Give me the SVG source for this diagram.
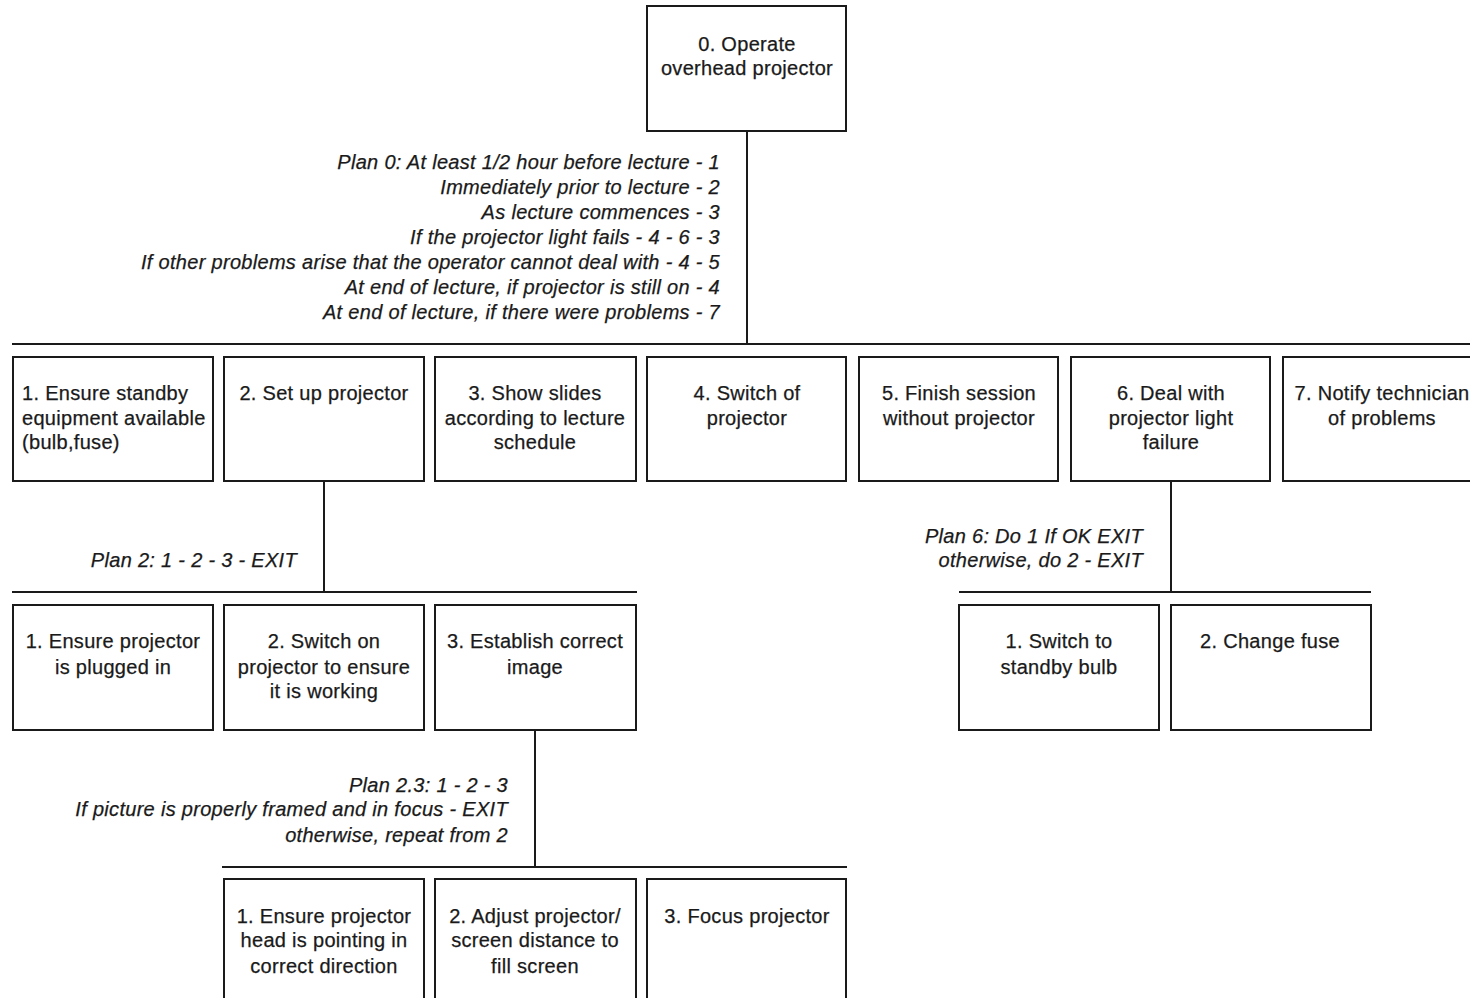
<svg xmlns="http://www.w3.org/2000/svg" width="1470" height="998" viewBox="0 0 1470 998">
  <style>
    .box { fill: #ffffff; stroke: #1a1a1a; stroke-width: 2; }
    .link { fill: none; stroke: #1a1a1a; stroke-width: 2; }
    text { font-family: "Liberation Sans", Arial, sans-serif; font-size: 20px; letter-spacing: 0.3px; fill: #1a1a1a; stroke: #1a1a1a; stroke-width: 0.25; }
    .c { text-anchor: middle; }
    .l { text-anchor: start; }
    .plan { font-style: italic; text-anchor: end; }
  </style>
  <rect width="1470" height="998" fill="#ffffff"/>

  <!-- connectors: vertical drops and horizontal bus lines -->
  <g id="connectors">
    <path class="link" d="M747 131 V344 M12 344 H1470"/>
    <path class="link" d="M324 481 V592 M12 592 H637"/>
    <path class="link" d="M1171 481 V592 M959 592 H1371"/>
    <path class="link" d="M535 730 V867 M222 867 H847"/>
  </g>

  <!-- plans -->
  <g id="plan-0">
    <text class="plan" x="720" y="169">Plan 0: At least 1/2 hour before lecture - 1</text>
    <text class="plan" x="720" y="194">Immediately prior to lecture - 2</text>
    <text class="plan" x="720" y="219">As lecture commences - 3</text>
    <text class="plan" x="720" y="244">If the projector light fails - 4 - 6 - 3</text>
    <text class="plan" x="720" y="269">If other problems arise that the operator cannot deal with - 4 - 5</text>
    <text class="plan" x="720" y="294">At end of lecture, if projector is still on - 4</text>
    <text class="plan" x="720" y="319">At end of lecture, if there were problems - 7</text>
  </g>
  <g id="plan-2">
    <text class="plan" x="297" y="567">Plan 2: 1 - 2 - 3 - EXIT</text>
  </g>
  <g id="plan-6">
    <text class="plan" x="1143" y="543">Plan 6: Do 1 If OK EXIT</text>
    <text class="plan" x="1143" y="567">otherwise, do 2 - EXIT</text>
  </g>
  <g id="plan-2-3">
    <text class="plan" x="508" y="792">Plan 2.3: 1 - 2 - 3</text>
    <text class="plan" x="508" y="816">If picture is properly framed and in focus - EXIT</text>
    <text class="plan" x="508" y="842">otherwise, repeat from 2</text>
  </g>

  <!-- root task -->
  <g id="task-0">
    <rect class="box" x="647" y="6" width="199" height="125"/>
    <text class="c" x="747" y="51">0. Operate</text>
    <text class="c" x="747" y="75">overhead projector</text>
  </g>

  <!-- level 1 -->
  <g id="task-1">
    <rect class="box" x="13" y="357" width="200" height="124"/>
    <text class="l" x="22" y="400">1. Ensure standby</text>
    <text class="l" x="22" y="425">equipment available</text>
    <text class="l" x="22" y="449">(bulb,fuse)</text>
  </g>
  <g id="task-2">
    <rect class="box" x="224" y="357" width="200" height="124"/>
    <text class="c" x="324" y="400">2. Set up projector</text>
  </g>
  <g id="task-3">
    <rect class="box" x="435" y="357" width="201" height="124"/>
    <text class="c" x="535" y="400">3. Show slides</text>
    <text class="c" x="535" y="425">according to lecture</text>
    <text class="c" x="535" y="449">schedule</text>
  </g>
  <g id="task-4">
    <rect class="box" x="647" y="357" width="199" height="124"/>
    <text class="c" x="747" y="400">4. Switch of</text>
    <text class="c" x="747" y="425">projector</text>
  </g>
  <g id="task-5">
    <rect class="box" x="859" y="357" width="199" height="124"/>
    <text class="c" x="959" y="400">5. Finish session</text>
    <text class="c" x="959" y="425">without projector</text>
  </g>
  <g id="task-6">
    <rect class="box" x="1071" y="357" width="199" height="124"/>
    <text class="c" x="1171" y="400">6. Deal with</text>
    <text class="c" x="1171" y="425">projector light</text>
    <text class="c" x="1171" y="449">failure</text>
  </g>
  <g id="task-7">
    <rect class="box" x="1283" y="357" width="200" height="124"/>
    <text class="c" x="1382" y="400">7. Notify technician</text>
    <text class="c" x="1382" y="425">of problems</text>
  </g>

  <!-- level 2 under task 2 -->
  <g id="task-2-1">
    <rect class="box" x="13" y="605" width="200" height="125"/>
    <text class="c" x="113" y="648">1. Ensure projector</text>
    <text class="c" x="113" y="674">is plugged in</text>
  </g>
  <g id="task-2-2">
    <rect class="box" x="224" y="605" width="200" height="125"/>
    <text class="c" x="324" y="648">2. Switch on</text>
    <text class="c" x="324" y="674">projector to ensure</text>
    <text class="c" x="324" y="698">it is working</text>
  </g>
  <g id="task-2-3">
    <rect class="box" x="435" y="605" width="201" height="125"/>
    <text class="c" x="535" y="648">3. Establish correct</text>
    <text class="c" x="535" y="674">image</text>
  </g>

  <!-- level 2 under task 6 -->
  <g id="task-6-1">
    <rect class="box" x="959" y="605" width="200" height="125"/>
    <text class="c" x="1059" y="648">1. Switch to</text>
    <text class="c" x="1059" y="674">standby bulb</text>
  </g>
  <g id="task-6-2">
    <rect class="box" x="1171" y="605" width="200" height="125"/>
    <text class="c" x="1270" y="648">2. Change fuse</text>
  </g>

  <!-- level 3 under task 2.3 -->
  <g id="task-2-3-1">
    <rect class="box" x="224" y="879" width="200" height="130"/>
    <text class="c" x="324" y="923">1. Ensure projector</text>
    <text class="c" x="324" y="947">head is pointing in</text>
    <text class="c" x="324" y="973">correct direction</text>
  </g>
  <g id="task-2-3-2">
    <rect class="box" x="435" y="879" width="201" height="130"/>
    <text class="c" x="535" y="923">2. Adjust projector/</text>
    <text class="c" x="535" y="947">screen distance to</text>
    <text class="c" x="535" y="973">fill screen</text>
  </g>
  <g id="task-2-3-3">
    <rect class="box" x="647" y="879" width="199" height="130"/>
    <text class="c" x="747" y="923">3. Focus projector</text>
  </g>
</svg>
